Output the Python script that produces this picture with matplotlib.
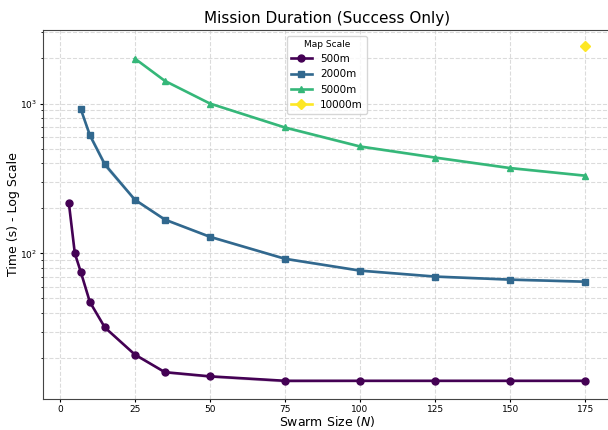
import matplotlib
matplotlib.use("Agg")
import matplotlib.pyplot as plt
import numpy as np

# swarm sizes and mean mission durations (s) per map scale
n_500 = [3, 5, 7, 10, 15, 25, 35, 50, 75, 100, 125, 150, 175]
t_500 = [218, 100, 75, 47.4, 32, 21.1, 16.1, 15.1, 14.1, 14.1, 14.1, 14.1, 14.1]
sd_500 = [3, 2, 1.5, 1, 0.6, 0.4, 0.3, 0.3, 0.3, 0.2, 0.2, 0.2, 0.2]

n_2000 = [7, 10, 15, 25, 35, 50, 75, 100, 125, 150, 175]
t_2000 = [916, 615, 392, 228, 168, 129, 92, 76.7, 70, 66.8, 64.7]
sd_2000 = [15, 30, 18, 6, 3, 2.5, 1.5, 1.2, 1, 1, 1]

n_5000 = [25, 35, 50, 75, 100, 125, 150, 175]
t_5000 = [1995, 1416, 1000, 692, 517, 436, 371, 330]
sd_5000 = [20, 15, 12, 14, 10, 8, 7, 5]

n_10000 = [175]
t_10000 = [2410]

labels = ["500m", "2000m", "5000m", "10000m"]
markers = ["o", "s", "^", "D"]
colors = plt.cm.viridis(np.linspace(0, 1, 4))

fig = plt.figure(figsize=(6.08, 4.30), dpi=100)
ax = fig.add_axes([43 / 608, 31 / 430, 568 / 608, 369.5 / 430])

series = [(n_500, t_500, sd_500), (n_2000, t_2000, sd_2000),
          (n_5000, t_5000, sd_5000), (n_10000, t_10000, [0])]
for i, (x, y, sd) in enumerate(series):
    x = np.array(x)
    y = np.array(y)
    sd = np.array(sd)
    ax.plot(x, y, marker=markers[i], color=colors[i], lw=1.9, ms=5, label=labels[i])
    if len(x) > 1:
        ax.fill_between(x, y - sd, y + sd, color=colors[i], alpha=0.2, lw=0)

ax.set_yscale("log")
ax.set_xticks([0, 25, 50, 75, 100, 125, 150, 175])
ax.grid(True, which="both", ls="--", color="#cccccc", lw=0.8, alpha=0.7)
ax.tick_params(labelsize=6.5, length=2, pad=2)
ax.tick_params(which="minor", length=1.5, labelleft=False)
for s in ax.spines.values():
    s.set_color("#444444")
ax.spines["right"].set_visible(False)

ax.set_title("Mission Duration (Success Only)", fontsize=11, pad=5)
ax.set_xlabel("Swarm Size ($N$)", fontsize=9, labelpad=0)
ax.set_ylabel("Time (s) - Log Scale", fontsize=9, labelpad=0)
ax.legend(title="Map Scale", loc="upper center", fontsize=7.5, title_fontsize=6.5,
          borderaxespad=0.6)

fig.savefig("out.png", dpi=100)
